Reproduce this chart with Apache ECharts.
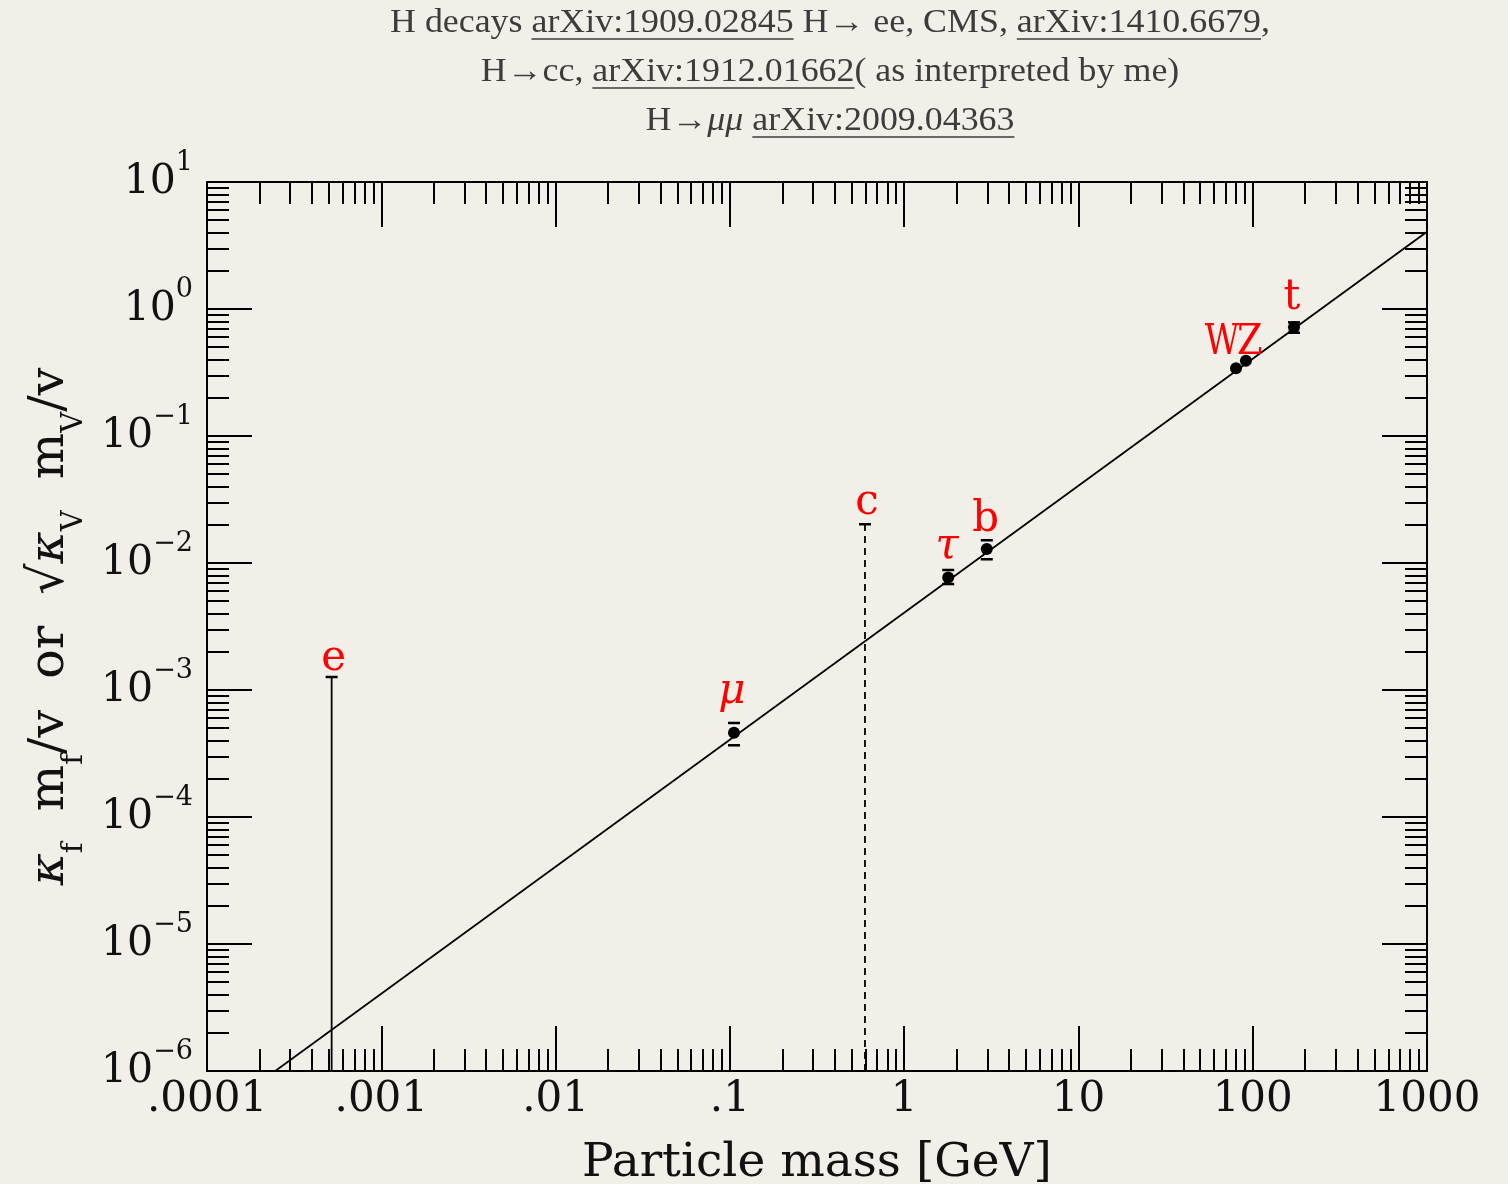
<!DOCTYPE html>
<html><head><meta charset="utf-8">
<script src="https://cdn.jsdelivr.net/npm/echarts@6/dist/echarts.min.js"></script>
<style>html,body{margin:0;padding:0;background:#f2efe9;}#c{width:1508px;height:1184px;}</style>
</head><body><div id="c"></div>
<script>
// ---------------- data ----------------
const xTickValues = [1e-4, 1e-3, 1e-2, 1e-1, 1, 10, 100, 1000];
const xTickLabels = ['.0001', '.001', '.01', '.1', '1', '10', '100', '1000'];
const yTickValues = [1e-6, 1e-5, 1e-4, 1e-3, 1e-2, 1e-1, 1, 10];
const yTickExponents = ['−6', '−5', '−4', '−3', '−2', '−1', '0', '1'];

// measured couplings (dots with error bars)
const measuredNames = ['μ', 'τ', 'b', 'W', 'Z', 't'];
const measuredMass  = [0.1056, 1.79, 2.98, 80.2, 91.4, 172.5];
const measuredKappa = [4.6e-4, 7.7e-3, 0.0129, 0.341, 0.392, 0.718];
const measuredLow   = [3.67e-4, 6.83e-3, 0.0107, null, null, 0.65];
const measuredHigh  = [5.5e-4, 8.81e-3, 0.0151, null, null, 0.785];

// upper limits (vertical lines from the bottom)
const limitNames = ['e', 'c'];
const limitMass  = [5.19e-4, 0.596];
const limitKappa = [1.266e-3, 0.0202];

// SM expectation line  kappa = m / v
const modelMass  = [1e-4, 1000];
const modelKappa = [4.06e-7, 4.06];

const titleLines = [
  [['H decays ', 0], ['arXiv:1909.02845', 1], [' H\u2192 ee, CMS, ', 0], ['arXiv:1410.6679', 1], [',', 0]],
  [['H\u2192cc, ', 0], ['arXiv:1912.01662', 1], ['( as interpreted by me)', 0]],
  [['H\u2192', 0], ['\u03bc\u03bc', 2], [' ', 0], ['arXiv:2009.04363', 1]]
];

// ---------------- styles ----------------
const BG = '#f2efe9';
const INK = '#111';
const TITLE_INK = '#3c3c3c';
const limitDashed = { e: false, c: true };
const labelStyle = {
  'μ': { dx: -2, dy: -41, italic: true },
  'τ': { dx: -1, dy: -30, italic: true },
  'b': { dx: -1, dy: -29 },
  'W': { dx: -14, dy: -25, sx: 0.8 },
  'Z': { dx: 4, dy: -18, sx: 0.88 },
  't': { dx: -2, dy: -29 },
  'e': { dx: 2, dy: -18 },
  'c': { dx: 2, dy: -21 }
};

function minorValues(lo, hi) {
  const out = [];
  for (let d = lo; d < hi; d++) for (let k = 2; k <= 9; k++) out.push(Number((k * Math.pow(10, d)).toPrecision(3)));
  return out;
}
const xMinor = minorValues(-4, 3);
const yMinor = minorValues(-6, 1);

function axis(kind, pos, major) {
  const isX = kind === 'x';
  const showLabel = major && (pos === 'bottom' || pos === 'left');
  const ax = {
    type: 'log', logBase: 10,
    min: isX ? xTickValues[0] : yTickValues[0],
    max: isX ? xTickValues[xTickValues.length - 1] : yTickValues[yTickValues.length - 1],
    position: pos,
    axisLine: { show: true, onZero: false, lineStyle: { color: '#000', width: 2 } },
    axisTick: { show: true, inside: true, length: major ? 45 : 22,
      lineStyle: { color: '#000', width: 2 },
      customValues: major ? (isX ? xTickValues : yTickValues) : (isX ? xMinor : yMinor) },
    minorTick: { show: false },
    splitLine: { show: false },
    minorSplitLine: { show: false },
    axisLabel: { show: showLabel }
  };
  if (showLabel && isX) {
    ax.axisLabel = { show: true, customValues: xTickValues, margin: 8,
      fontFamily: 'DejaVu Serif', fontSize: 42, color: INK,
      formatter: v => { const i = xTickValues.findIndex(t => Math.abs(Math.log10(t) - Math.log10(v)) < 1e-6); return i >= 0 ? xTickLabels[i] : ''; } };
    ax.name = 'Particle mass [GeV]';
    ax.nameLocation = 'middle';
    ax.nameGap = 69;
    ax.nameMoveOverlap = false;
    ax.nameTextStyle = { fontFamily: 'DejaVu Serif', fontSize: 47, color: INK };
  }
  if (showLabel && !isX) {
    ax.axisLabel = { show: true, customValues: yTickValues, margin: 14,
      formatter: v => { const i = yTickValues.findIndex(t => Math.abs(Math.log10(t) - Math.log10(v)) < 1e-6); return i >= 0 ? '{b|10}{s|' + yTickExponents[i] + '}' : ''; },
      rich: {
        b: { fontFamily: 'DejaVu Serif', fontSize: 41, lineHeight: 66, color: INK },
        s: { fontFamily: 'DejaVu Serif', fontSize: 27, lineHeight: 27, verticalAlign: 'top', color: INK }
      } };
    ax.name = '{k|κ}{s|f}  m{s|f}/v  or  √{k|κ}{s|V}  m{s|V}/v';
    ax.nameLocation = 'middle';
    ax.nameRotate = 90;
    ax.nameGap = 118;
    ax.nameMoveOverlap = false;
    ax.nameTextStyle = { fontFamily: 'DejaVu Serif', fontSize: 49, lineHeight: 78, color: INK,
      rich: {
        k: { fontFamily: 'DejaVu Serif', fontStyle: 'italic', fontSize: 49, color: INK },
        s: { fontFamily: 'DejaVu Serif', fontSize: 29, lineHeight: 29, verticalAlign: 'bottom', color: INK }
      } };
  }
  return ax;
}

function labelEl(name, p) {
  const st = labelStyle[name];
  return { type: 'text', x: p[0] + st.dx, y: p[1] + st.dy, scaleX: st.sx || 1,
    style: { text: name, fill: '#ff0000', fontFamily: 'DejaVu Serif', fontSize: 42,
      fontStyle: st.italic ? 'italic' : 'normal', align: 'center', verticalAlign: 'middle' } };
}
function cap(x, y) {
  return { type: 'line', shape: { x1: x - 6, y1: y, x2: x + 6, y2: y }, style: { stroke: '#000', lineWidth: 2.5 } };
}

// ---------------- title (graphic) ----------------
const TITLE_FS = 33;
const TITLE_FAMILY = 'Liberation Serif';
const mctx = document.createElement('canvas').getContext('2d');
function measure(t, f) { mctx.font = (f === 2 ? 'italic ' : '') + TITLE_FS + 'px "' + TITLE_FAMILY + '"'; return mctx.measureText(t).width; }
const lineWidths = titleLines.map(l => l.reduce((s, seg) => s + measure(seg[0], seg[1]), 0));
const titleScale = 880 / lineWidths[0];
const titleBaselines = [34, 83, 132];
const titleGraphics = titleLines.map((l, li) => {
  const children = [];
  let x = -lineWidths[li] / 2;
  l.forEach(seg => {
    const w = measure(seg[0], seg[1]);
    children.push({ type: 'text', x: x, y: -0.31 * TITLE_FS,
      style: { text: seg[0], fontFamily: TITLE_FAMILY, fontSize: TITLE_FS, fontStyle: seg[1] === 2 ? 'italic' : 'normal',
        fill: TITLE_INK, align: 'left', verticalAlign: 'middle' } });
    if (seg[1] === 1) children.push({ type: 'line', shape: { x1: x, y1: 5, x2: x + w, y2: 5 },
      style: { stroke: TITLE_INK, lineWidth: 1.6 } });
    x += w;
  });
  return { type: 'group', x: 830, y: titleBaselines[li], scaleX: titleScale, children: children };
});

// ---------------- chart ----------------
const chart = echarts.init(document.getElementById('c'), null, { renderer: 'canvas' });
chart.setOption({
  backgroundColor: BG,
  animation: false,
  grid: { left: 207, top: 182, width: 1220, height: 889, containLabel: false, outerBoundsMode: 'none' },
  xAxis: [axis('x', 'bottom', true), axis('x', 'bottom', false), axis('x', 'top', true), axis('x', 'top', false)],
  yAxis: [axis('y', 'left', true), axis('y', 'left', false), axis('y', 'right', true), axis('y', 'right', false)],
  graphic: titleGraphics,
  series: [
    {
      type: 'line', xAxisIndex: 0, yAxisIndex: 0, clip: true, showSymbol: false, symbol: 'none',
      lineStyle: { color: '#000', width: 1.8 },
      data: modelMass.map((m, i) => [m, modelKappa[i]]), z: 2
    },
    {
      type: 'custom', xAxisIndex: 0, yAxisIndex: 0, z: 5,
      data: limitMass.map((m, i) => [m, limitKappa[i]]),
      renderItem: (params, api) => {
        const i = params.dataIndex;
        const name = limitNames[i];
        const top = api.coord([limitMass[i], limitKappa[i]]);
        const bot = api.coord([limitMass[i], yTickValues[0]]);
        return { type: 'group', children: [
          { type: 'line', shape: { x1: top[0], y1: bot[1], x2: top[0], y2: top[1] },
            style: { stroke: '#000', lineWidth: 1.8, lineDash: limitDashed[name] ? [7, 5] : null } },
          cap(top[0], top[1]),
          labelEl(name, top)
        ] };
      }
    },
    {
      type: 'custom', xAxisIndex: 0, yAxisIndex: 0, z: 6,
      data: measuredMass.map((m, i) => [m, measuredKappa[i]]),
      renderItem: (params, api) => {
        const i = params.dataIndex;
        const p = api.coord([measuredMass[i], measuredKappa[i]]);
        const ch = [];
        if (measuredHigh[i] != null) {
          const hi = api.coord([measuredMass[i], measuredHigh[i]]);
          const lo = api.coord([measuredMass[i], measuredLow[i]]);
          ch.push(cap(p[0], hi[1]), cap(p[0], lo[1]));
        }
        ch.push({ type: 'circle', shape: { cx: p[0], cy: p[1], r: 6 }, style: { fill: '#000' } });
        ch.push(labelEl(measuredNames[i], p));
        return { type: 'group', children: ch };
      }
    }
  ]
});
</script></body></html>
